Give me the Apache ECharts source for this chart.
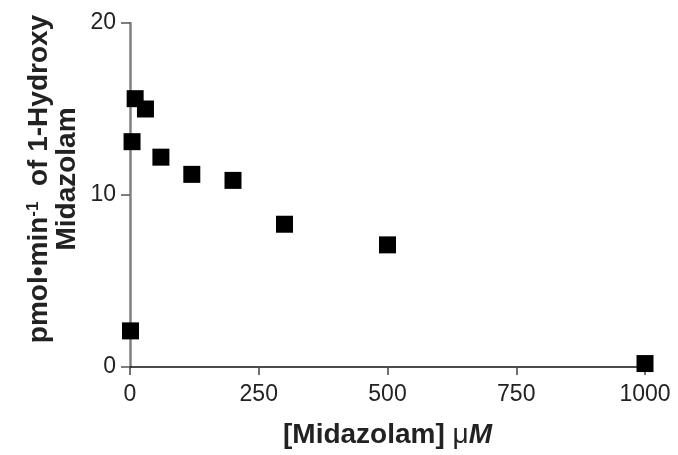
<!DOCTYPE html>
<html><head><meta charset="utf-8">
<script src="https://cdn.jsdelivr.net/npm/echarts@6/dist/echarts.min.js"></script>
<style>html,body{margin:0;padding:0;background:#fff}#c{width:678px;height:455px}</style>
</head><body><div id="c"></div>
<script>
const concentrations = [1, 4, 10, 30, 60, 120, 200, 300, 500, 1000];
const rates = [2.1, 13.1, 15.6, 15.0, 12.2, 11.2, 10.85, 8.3, 7.1, 0.2];
const xTicks = [0, 250, 500, 750, 1000];
const yTicks = [0, 10, 20];

const chart = echarts.init(document.getElementById('c'));
const font = 'Liberation Sans, Arial, sans-serif';
chart.setOption({
  animation: false,
  grid: {left: 130, right: 33, top: 23, bottom: 88},
  xAxis: {
    type: 'value', min: xTicks[0], max: xTicks[xTicks.length-1], interval: 250,
    splitLine: {show: false},
    axisLine: {lineStyle: {color: '#111', width: 1.5}},
    axisTick: {length: 8, lineStyle: {color: '#444', width: 1.5}},
    axisLabel: {fontFamily: font, fontSize: 23, color: '#222', margin: 16, formatter: v => String(v)},
    name: '{b|[Midazolam] }{g|μ}{i|M}', nameLocation: 'middle', nameGap: 54,
    nameTextStyle: {rich: {
      b: {fontFamily: font, fontSize: 28, fontWeight: 'bold', color: '#222'},
      g: {fontFamily: font, fontSize: 28, color: '#222'},
      i: {fontFamily: font, fontSize: 28, fontWeight: 'bold', fontStyle: 'italic', color: '#222'}
    }}
  },
  yAxis: {
    type: 'value', min: yTicks[0], max: yTicks[yTicks.length-1], interval: 10,
    splitLine: {show: false},
    axisLine: {lineStyle: {color: '#808080', width: 2.5}},
    axisTick: {length: 9, lineStyle: {color: '#555', width: 1.5}},
    axisLabel: {fontFamily: font, fontSize: 23, color: '#222', margin: 14, formatter: v => String(v)}
  },
  graphic: [{
    type: 'text', x: 53, y: 179, rotation: Math.PI / 2,
    style: {
      text: '{a|pmol•min}{s|-1}{a|  of 1-Hydroxy}\n{a|Midazolam}',
      align: 'center', verticalAlign: 'middle',
      rich: {
        a: {fontFamily: font, fontSize: 28, fontWeight: 'bold', fill: '#222', lineHeight: 28, align: 'center'},
        s: {fontFamily: font, fontSize: 17, fontWeight: 'bold', fill: '#222', verticalAlign: 'top', padding: [0, 0, 14, 0], lineHeight: 28}
      }
    }
  }],
  series: [{
    type: 'scatter', symbol: 'rect', symbolSize: 17, clip: false,
    itemStyle: {color: '#000', opacity: 1},
    data: concentrations.map((c, i) => [c, rates[i]])
  }]
});
</script></body></html>
